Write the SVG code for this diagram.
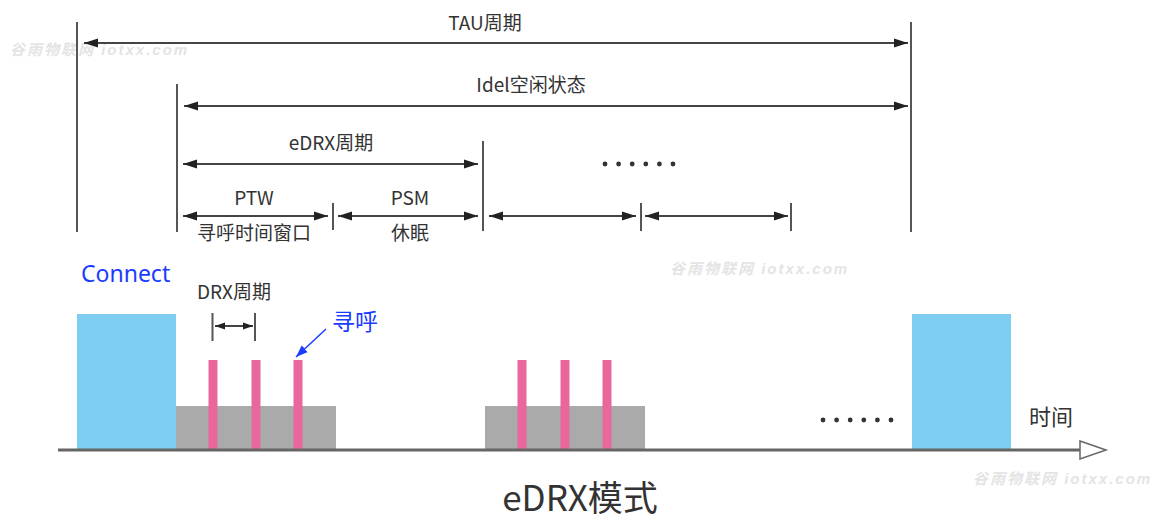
<svg xmlns="http://www.w3.org/2000/svg" width="1154" height="520" viewBox="0 0 1154 520">
<style>
.t{font-family:"Noto Sans CJK SC","Noto Sans",sans-serif;fill:#333;text-anchor:middle}
.ln{stroke:#555;stroke-width:2;fill:none}
.ar{stroke:#444;stroke-width:2;fill:none;marker-start:url(#ah);marker-end:url(#ah)}
.wm{font-family:"Liberation Sans","Noto Sans CJK SC",sans-serif;font-weight:bold;font-style:italic;font-size:15px;letter-spacing:2px;fill:#e4e4e4}
.cy{fill:#7ecef4}
.gr{fill:#aaaaaa}
.pk{fill:#e8689e}
.dot{fill:#333}
</style>
<defs>
<marker id="ah" markerUnits="userSpaceOnUse" markerWidth="16" markerHeight="10" refX="14" refY="5" orient="auto-start-reverse">
<path d="M0,0.5 L14,5 L0,9.5 Z" fill="#222"/>
</marker>
<marker id="ahs" markerUnits="userSpaceOnUse" markerWidth="12" markerHeight="8" refX="10" refY="4" orient="auto-start-reverse">
<path d="M0,0.5 L10,4 L0,7.5 Z" fill="#222"/>
</marker>
<marker id="ahb" markerUnits="userSpaceOnUse" markerWidth="14" markerHeight="10" refX="12" refY="5" orient="auto">
<path d="M0,0.5 L12,5 L0,9.5 Z" fill="#1a3cff"/>
</marker>
</defs>

<g id="watermarks">
<text class="wm" x="10" y="55">谷雨物联网 iotxx.com</text>
<text class="wm" x="670" y="274">谷雨物联网 iotxx.com</text>
<text class="wm" x="973" y="484">谷雨物联网 iotxx.com</text>
</g>

<g id="connectors">
<line class="ln" x1="77" y1="22" x2="77" y2="232"/>
<line class="ln" x1="911" y1="22" x2="911" y2="232"/>
<line class="ln" x1="177" y1="84" x2="177" y2="232"/>
<line class="ln" x1="483" y1="141" x2="483" y2="231"/>
<line class="ln" x1="333" y1="203" x2="333" y2="230"/>
<line class="ln" x1="641" y1="203" x2="641" y2="231"/>
<line class="ln" x1="791" y1="203" x2="791" y2="231"/>
<line class="ar" x1="84" y1="43" x2="908" y2="43"/>
<line class="ar" x1="184" y1="106" x2="908" y2="106"/>
<line class="ar" x1="183" y1="164" x2="478" y2="164"/>
<line class="ar" x1="183" y1="216" x2="328" y2="216"/>
<line class="ar" x1="338" y1="216" x2="478" y2="216"/>
<line class="ar" x1="489" y1="216" x2="636" y2="216"/>
<line class="ar" x1="645" y1="216" x2="788" y2="216"/>
<line class="ln" x1="212.5" y1="313" x2="212.5" y2="341"/>
<line class="ln" x1="255" y1="313" x2="255" y2="341"/>
<line x1="215" y1="326" x2="253" y2="326" stroke="#444" stroke-width="2" marker-start="url(#ahs)" marker-end="url(#ahs)"/>
<line x1="326" y1="329" x2="296" y2="357" stroke="#1a3cff" stroke-width="1.5" marker-end="url(#ahb)"/>
</g>

<g id="labels-top">
<text class="t" x="485" y="30" font-size="19">TAU周期</text>
<text class="t" x="531" y="92" font-size="19">Idel空闲状态</text>
<text class="t" x="331" y="150" font-size="19">eDRX周期</text>
<text class="t" x="254" y="205" font-size="19">PTW</text>
<text class="t" x="254" y="240" font-size="19">寻呼时间窗口</text>
<text class="t" x="410" y="205" font-size="19">PSM</text>
<text class="t" x="410" y="240" font-size="19">休眠</text>
</g>

<g id="dots-top">
<circle class="dot" cx="605" cy="164" r="2.4"/>
<circle class="dot" cx="618.6" cy="164" r="2.4"/>
<circle class="dot" cx="632.2" cy="164" r="2.4"/>
<circle class="dot" cx="645.8" cy="164" r="2.4"/>
<circle class="dot" cx="659.4" cy="164" r="2.4"/>
<circle class="dot" cx="673" cy="164" r="2.4"/>
</g>

<g id="connect1">
<rect class="cy" x="77" y="314" width="99" height="136"/>
<text x="81" y="282" font-family="'Noto Sans','Noto Sans CJK SC',sans-serif" font-size="23" fill="#1a3cff">Connect</text>
</g>

<g id="ptw1">
<rect class="gr" x="176" y="406" width="160" height="44"/>
<rect class="pk" x="208.5" y="360" width="9" height="90"/>
<rect class="pk" x="251.5" y="360" width="9" height="90"/>
<rect class="pk" x="293.5" y="360" width="9" height="90"/>
<text class="t" x="234" y="299" font-size="19">DRX周期</text>
<text x="332" y="330" font-family="'Noto Sans CJK SC',sans-serif" font-size="23" fill="#1a3cff">寻呼</text>
</g>

<g id="ptw2">
<rect class="gr" x="485" y="406" width="160" height="44"/>
<rect class="pk" x="517.5" y="360" width="9" height="90"/>
<rect class="pk" x="560.5" y="360" width="9" height="90"/>
<rect class="pk" x="602.5" y="360" width="9" height="90"/>
</g>

<g id="dots-bottom">
<circle class="dot" cx="823" cy="420" r="2.4"/>
<circle class="dot" cx="836.6" cy="420" r="2.4"/>
<circle class="dot" cx="850.2" cy="420" r="2.4"/>
<circle class="dot" cx="863.8" cy="420" r="2.4"/>
<circle class="dot" cx="877.4" cy="420" r="2.4"/>
<circle class="dot" cx="891" cy="420" r="2.4"/>
</g>

<g id="connect2">
<rect class="cy" x="912" y="314" width="99" height="136"/>
</g>

<g id="axis">
<line x1="58" y1="450" x2="1080" y2="450" stroke="#666" stroke-width="3"/>
<path d="M1080,441 L1106,450 L1080,459 Z" fill="#fff" stroke="#666" stroke-width="1.5"/>
<text class="t" x="1051" y="425" font-size="22">时间</text>
</g>

<g id="title">
<text class="t" x="580" y="511" font-size="35">eDRX模式</text>
</g>
</svg>
